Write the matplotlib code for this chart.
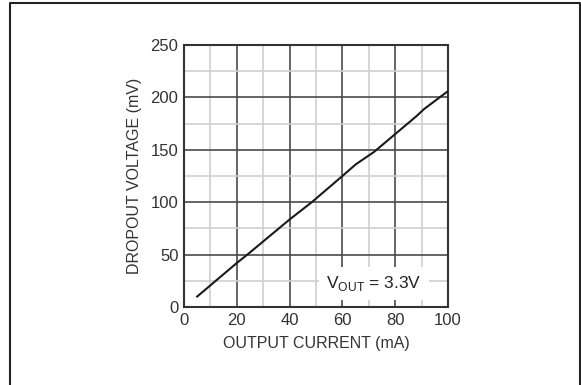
import numpy as np
import matplotlib.pyplot as plt
from matplotlib.lines import Line2D

plt.rcParams['font.family'] = ['Liberation Sans', 'DejaVu Sans']

# data
current_ma = [5, 20, 24, 40, 48.4, 60, 65, 72, 80, 88, 91, 100]
dropout_mv = [10, 42, 50, 83.5, 100, 125, 136, 148, 165, 182, 189, 206]

x_major = [0, 20, 40, 60, 80, 100]
y_major = [0, 50, 100, 150, 200, 250]

fig = plt.figure(figsize=(5.81, 3.85), dpi=100)
ax = fig.add_axes([184 / 581, 1 - 307 / 385, 264 / 581, 262 / 385])

ax.set_xlim(0, 100)
ax.set_ylim(0, 250)
ax.set_xticks(x_major)
ax.set_yticks(y_major)
ax.set_xticks(np.arange(10, 100, 20), minor=True)
ax.set_yticks(np.arange(25, 250, 50), minor=True)

ax.grid(True, which='major', color='#4a4a4a', linewidth=1.2)
ax.grid(True, which='minor', color='#cfcfcf', linewidth=1.2)
ax.set_axisbelow(True)

ax.plot(current_ma, dropout_mv, color='#1a1a1a', linewidth=1.5, zorder=3)

ax.text(72, 22, r'V$_{\mathregular{OUT}}$ = 3.3V', ha='center', va='center',
        fontsize=12.5, color='#222222', zorder=4,
        bbox=dict(facecolor='white', edgecolor='none', pad=5))

for s in ax.spines.values():
    s.set_color('#333333')
    s.set_linewidth(1.5)

ax.tick_params(which='both', length=0, labelsize=12, colors='#333333', pad=4)

ax.set_xlabel('OUTPUT CURRENT (mA)', fontsize=11.5, color='#333333', labelpad=6)
ax.set_ylabel('DROPOUT VOLTAGE (mV)', fontsize=11.5, color='#333333', labelpad=6)

# outer frame of the figure (left, top, right)
W, H = 581, 385
frame_x = [10 / W, 10 / W, 580 / W, 580 / W]
frame_y = [0, 1 - 3 / H, 1 - 3 / H, 0]
fig.add_artist(Line2D(frame_x, frame_y, color='#222222', linewidth=1.5))

fig.savefig('out.png', dpi=100)
